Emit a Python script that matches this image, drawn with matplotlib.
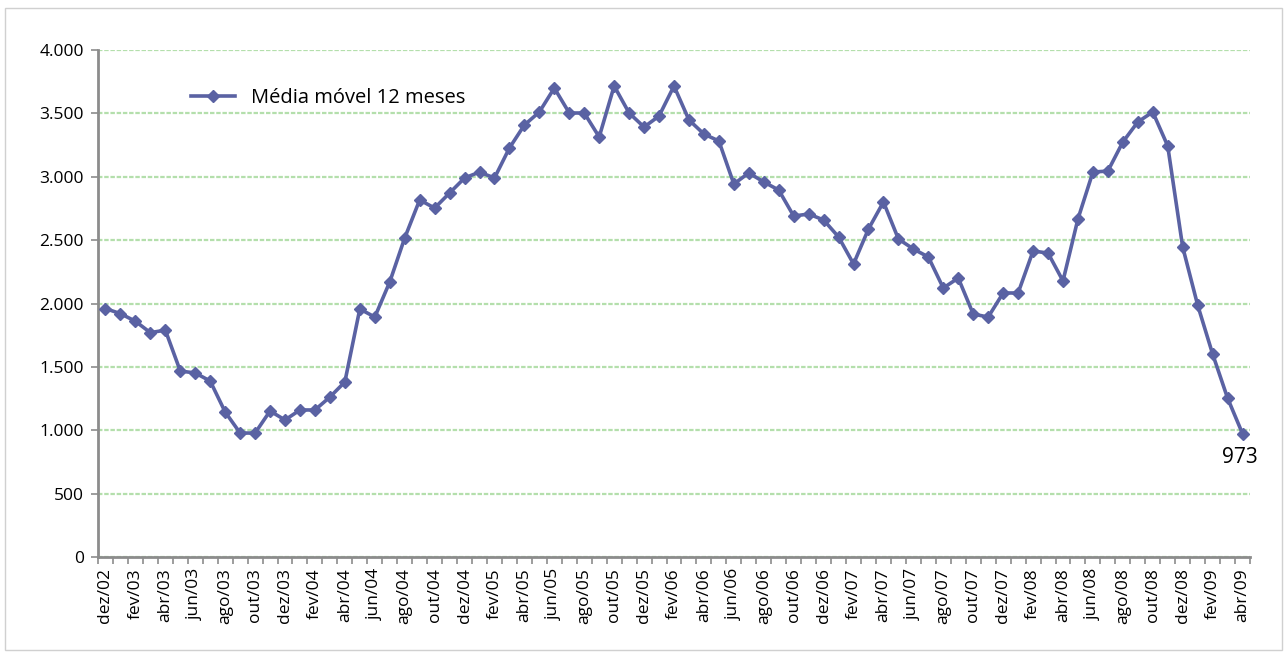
import numpy as np
import matplotlib
matplotlib.use("Agg")
import matplotlib.pyplot as plt
from matplotlib.ticker import FuncFormatter, FixedLocator
from matplotlib.patches import Rectangle

# monthly labels dez/02 .. abr/09
month_names = ['jan', 'fev', 'mar', 'abr', 'mai', 'jun',
               'jul', 'ago', 'set', 'out', 'nov', 'dez']
months = []
m, y = 11, 2
while (y, m) <= (9, 3):
    months.append(f"{month_names[m]}/{y:02d}")
    m += 1
    if m == 12:
        m, y = 0, y + 1

# 12-month moving average
media_movel = [1960, 1920, 1860, 1770, 1790, 1467, 1452, 1388, 1144, 978,
               978, 1152, 1081, 1160, 1160, 1262, 1381, 1957, 1893, 2170,
               2517, 2817, 2753, 2872, 2990, 3037, 2990, 3227, 3408, 3511,
               3700, 3503, 3503, 3314, 3716, 3503, 3392, 3479, 3716, 3448,
               3337, 3282, 2943, 3030, 2959, 2895, 2690, 2706, 2659, 2525,
               2312, 2588, 2801, 2509, 2430, 2367, 2122, 2201, 1917, 1893,
               2083, 2083, 2414, 2398, 2178, 2667, 3037, 3045, 3274, 3432,
               3511, 3243, 2446, 1988, 1602, 1254, 973]

plt.rcParams['font.family'] = ['Open Sans', 'DejaVu Sans']

fig = plt.figure(figsize=(12.87, 6.53), dpi=100)
ax = fig.add_axes([98 / 1287, 96 / 653, 1152 / 1287, 507 / 653])

fig.patches.append(Rectangle((0.004, 0.004), 0.992, 0.984, transform=fig.transFigure,
                             fill=False, edgecolor='#d0d0d0', linewidth=1))

x = np.arange(len(media_movel))
ax.plot(x, media_movel, color='#5a62a3', linewidth=2.6, marker='D',
        markersize=6.5, label='Média móvel 12 meses', zorder=3)

ax.set_xlim(-0.5, len(months) - 0.5)
ax.set_ylim(0, 4000)
ax.set_yticks(np.arange(0, 4001, 500))
ax.yaxis.set_major_formatter(FuncFormatter(lambda v, p: f"{int(v):,}".replace(',', '.')))
ax.grid(axis='y', color='#b4dfac', linestyle=(0, (2, 0.8)), linewidth=1.6, zorder=0)

ax.set_xticks(x[::2])
ax.set_xticklabels(months[::2], rotation=90)
ax.xaxis.set_minor_locator(FixedLocator(np.arange(-0.5, len(months), 1)))
ax.tick_params(axis='x', which='major', length=0, pad=8, labelsize=12.5)
ax.tick_params(axis='x', which='minor', length=5, color='#8c8c8c', width=1.2)
ax.tick_params(axis='y', length=5, color='#8c8c8c', width=1.2, labelsize=12.5, pad=5)

for s in ['top', 'right']:
    ax.spines[s].set_visible(False)
for s in ['left', 'bottom']:
    ax.spines[s].set_color('#8c8c8c')
    ax.spines[s].set_linewidth(2)

ax.annotate(f"{media_movel[-1]}", (x[-1], media_movel[-1]), xytext=(-15, -17),
            textcoords='offset points', fontsize=15, ha='left', va='center')

ax.legend(loc='upper left', bbox_to_anchor=(0.065, 0.96), frameon=False,
          fontsize=14.5, handlelength=2.2, handletextpad=0.8)

fig.savefig('out.png', dpi=100)
